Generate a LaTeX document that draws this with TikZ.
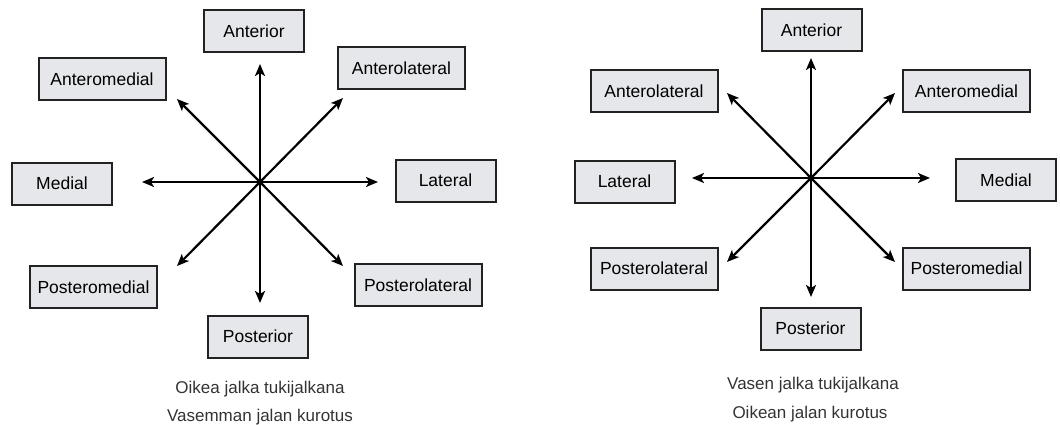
\documentclass[tikz,border=0pt]{standalone}
\usepackage{fontspec}
\setmainfont{Liberation Sans}
\usetikzlibrary{arrows.meta}
\definecolor{boxfill}{HTML}{E6E7EA}
\definecolor{boxline}{HTML}{222222}
\definecolor{captxt}{HTML}{333333}
\begin{document}
\begin{tikzpicture}[x=1pt,y=-1pt,
  dirbox/.style={draw=boxline, fill=boxfill, line width=2pt, minimum height=42pt, inner sep=0pt,
    font=\fontsize{17.5}{20}\selectfont, text=black},
  narrow/.style={dirbox, minimum width=100pt},
  wide/.style={dirbox, minimum width=127pt},
  ray/.style={line width=2.2pt, -{Stealth[length=12pt,width=10pt,inset=3pt]}},
  captext/.style={anchor=base, inner sep=0pt, text=captxt, font=\fontsize{17}{20}\selectfont}]
\useasboundingbox (0,0) rectangle (1060,425);
\clip (0,0) rectangle (1060,425);

% ---------- left diagram ----------
\node[narrow] (lA)  at (254,31)    {Anterior};
\node[wide]   (lAL) at (401.5,68)  {Anterolateral};
\node[wide]   (lAM) at (102,79)    {Anteromedial};
\node[narrow] (lM)  at (62,183.5)  {Medial};
\node[narrow] (lL)  at (445.5,180.5) {Lateral};
\node[wide]   (lPM) at (93.5,287)  {Posteromedial};
\node[wide]   (lPL) at (418,285)   {Posterolateral};
\node[narrow] (lP)  at (258,336.5) {Posterior};

\coordinate (lc)  at (260,182);
\coordinate (lu)  at (260,64);
\coordinate (ld)  at (260,303);
\coordinate (ll)  at (142,182);
\coordinate (lr)  at (378,182);
\coordinate (lnw) at (177,99);
\coordinate (lne) at (343,98);
\coordinate (lsw) at (177,266);
\coordinate (lse) at (343,266);
\foreach \e in {lu,ld,ll,lr,lnw,lne,lsw,lse} \draw[ray] (lc) -- (\e);

\node[captext] (lcap1) at (260,393) {Oikea jalka tukijalkana};
\node[captext] (lcap2) at (260,421) {Vasemman jalan kurotus};

% ---------- right diagram ----------
\node[narrow] (rA)  at (811.5,30)  {Anterior};
\node[wide]   (rAL) at (654,91.5)  {Anterolateral};
\node[wide]   (rAM) at (966.5,91.5) {Anteromedial};
\node[narrow] (rL)  at (624.5,181.5) {Lateral};
\node[narrow] (rM)  at (1006,180)  {Medial};
\node[wide]   (rPL) at (654,268.5) {Posterolateral};
\node[wide]   (rPM) at (966.5,268.5) {Posteromedial};
\node[narrow] (rP)  at (810.5,328.5) {Posterior};

\coordinate (rc)  at (811,178);
\coordinate (ru)  at (811,58);
\coordinate (rd)  at (811,297);
\coordinate (rl)  at (692,178);
\coordinate (rr)  at (930,178);
\coordinate (rnw) at (727,93);
\coordinate (rne) at (895,93);
\coordinate (rsw) at (727,262);
\coordinate (rse) at (895,262);
\foreach \e in {ru,rd,rl,rr,rnw,rne,rsw,rse} \draw[ray] (rc) -- (\e);

\node[captext] (rcap1) at (813,389) {Vasen jalka tukijalkana};
\node[captext] (rcap2) at (810,418) {Oikean jalan kurotus};
\end{tikzpicture}
\end{document}
